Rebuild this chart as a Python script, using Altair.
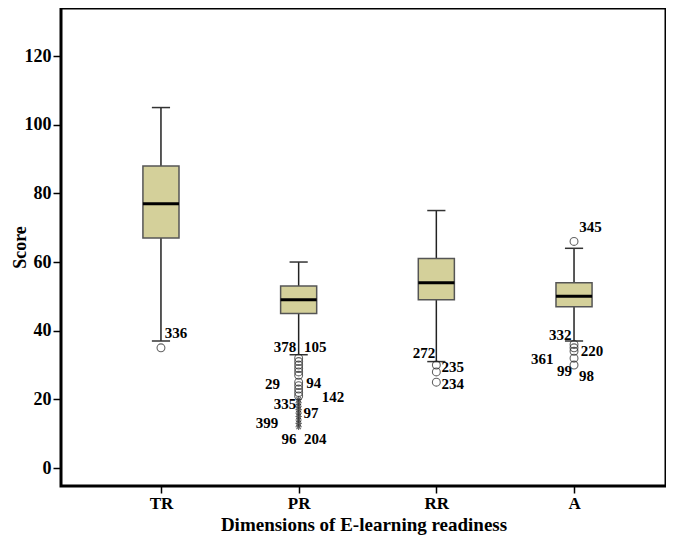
import altair as alt
import pandas as pd

# ---- data ----
categories = ["TR", "PR", "RR", "A"]
cat_pos = [1, 2, 3, 4]
whisker_low = [37, 33, 31, 37]
q1 = [67, 45, 49, 47]
median = [77, 49, 54, 50]
q3 = [88, 53, 61, 54]
whisker_high = [105, 60, 75, 64]

# mild outliers (circles)
circle_cat = [1] + [2] * 11 + [3] * 3 + [4] * 6
circle_val = [35,
              32, 31, 30, 29, 28, 27, 25, 24, 23, 22, 21,
              30, 28, 25,
              66, 36, 35, 34, 32, 30]
# extreme values (asterisks)
star_cat = [2] * 9
star_val = [20, 19, 18, 17, 16, 15, 14, 13, 12]

# case labels: text, position on the category axis, score
label_text = ["336",
              "378", "105", "29", "94", "142", "335", "97", "399", "96", "204",
              "272", "235", "234",
              "345", "332", "220", "361", "99", "98"]
label_x = [1.11,
           1.90, 2.12, 1.81, 2.11, 2.25, 1.90, 2.09, 1.77, 1.93, 2.12,
           2.91, 3.12, 3.12,
           4.12, 3.90, 4.13, 3.77, 3.93, 4.09]
label_y = [39.3,
           35.3, 35.3, 24.5, 24.8, 20.7, 18.6, 16.0, 13.1, 8.4, 8.4,
           33.5, 29.4, 24.4,
           70.2, 38.7, 34.1, 31.7, 28.3, 26.8]

y_ticks = [0, 20, 40, 60, 80, 100, 120]

# ---- tables ----
boxes = pd.DataFrame({"cat": categories, "pos": cat_pos, "lo": whisker_low, "q1": q1,
                      "med": median, "q3": q3, "hi": whisker_high})
circles = pd.DataFrame({"pos": circle_cat, "val": circle_val})
stars = pd.DataFrame({"pos": star_cat, "val": star_val})
labels = pd.DataFrame({"txt": label_text, "x": label_x, "y": label_y})

FONT = "Liberation Serif"
BOX_HALF = 0.131   # half box width in category units
CAP_HALF = 0.066   # half whisker-cap width

label_expr = "[" + ",".join(f"'{c}'" for c in categories) + "][datum.value - 1]"

x_scale = alt.Scale(domain=[0.274, 4.668], nice=False, zero=False)
y_scale = alt.Scale(domain=[-5.24, 134.0], nice=False, zero=False)

x_axis = alt.Axis(values=cat_pos, labelExpr=label_expr, title="Dimensions of E-learning readiness",
                  grid=False, domain=False, tickSize=7, tickColor="black", tickWidth=1.5,
                  labelFont=FONT, labelFontSize=17, labelFontWeight="bold", labelColor="black",
                  labelPadding=2, titleFont=FONT, titleFontSize=19, titleFontWeight="bold",
                  titleColor="black", titlePadding=4)
y_axis = alt.Axis(values=y_ticks, title="Score", grid=False, domain=False, tickSize=8,
                  tickColor="black", tickWidth=1.5, labelFont=FONT, labelFontSize=18,
                  labelFontWeight="bold", labelColor="black", labelPadding=2,
                  titleFont=FONT, titleFontSize=18, titleFontWeight="bold", titleColor="black",
                  titleX=-41, titleBaseline="middle")

base = alt.Chart(boxes)

whisker = base.mark_rule(color="#222222", strokeWidth=1.5).encode(
    x=alt.X("pos:Q", scale=x_scale, axis=x_axis),
    y=alt.Y("lo:Q", scale=y_scale, axis=y_axis),
    y2="hi:Q",
)

caps_hi = base.transform_calculate(a=f"datum.pos - {CAP_HALF}", b=f"datum.pos + {CAP_HALF}").mark_rule(
    color="#333333", strokeWidth=1.5).encode(x="a:Q", x2="b:Q", y="hi:Q")
caps_lo = base.transform_calculate(a=f"datum.pos - {CAP_HALF}", b=f"datum.pos + {CAP_HALF}").mark_rule(
    color="#333333", strokeWidth=1.5).encode(x="a:Q", x2="b:Q", y="lo:Q")

box = base.transform_calculate(a=f"datum.pos - {BOX_HALF}", b=f"datum.pos + {BOX_HALF}").mark_rect(
    fill="#D4D09A", stroke="#555555", strokeWidth=1.5).encode(x="a:Q", x2="b:Q", y="q1:Q", y2="q3:Q")

med = base.transform_calculate(a=f"datum.pos - {BOX_HALF}", b=f"datum.pos + {BOX_HALF}").mark_rule(
    color="black", strokeWidth=3).encode(x="a:Q", x2="b:Q", y="med:Q")

circ = alt.Chart(circles).mark_point(shape="circle", filled=False, color="#222222",
                                      size=62, strokeWidth=1.1).encode(x="pos:Q", y="val:Q")

star_shape = "M-1,0L1,0M0,-1L0,1M-0.7,-0.7L0.7,0.7M-0.7,0.7L0.7,-0.7"
star = alt.Chart(stars).mark_point(shape=star_shape, filled=False, color="#222222",
                                    size=40, strokeWidth=1.1).encode(x="pos:Q", y="val:Q")

txt = alt.Chart(labels).mark_text(font=FONT, fontSize=15, fontWeight="bold", color="black",
                                   align="center", baseline="middle").encode(
    x="x:Q", y="y:Q", text="txt:N")

chart = alt.layer(whisker, caps_hi, caps_lo, box, med, circ, star, txt).properties(
    width=605, height=478,
    autosize=alt.AutoSizeParams(type="none"),
    padding={"left": 53, "top": 0, "right": 0, "bottom": 53},
).configure(
    background="white",
    view=alt.ViewConfig(stroke="black", strokeWidth=3),
)

chart.save("out.html", embed_options={"renderer": "svg", "actions": False})
